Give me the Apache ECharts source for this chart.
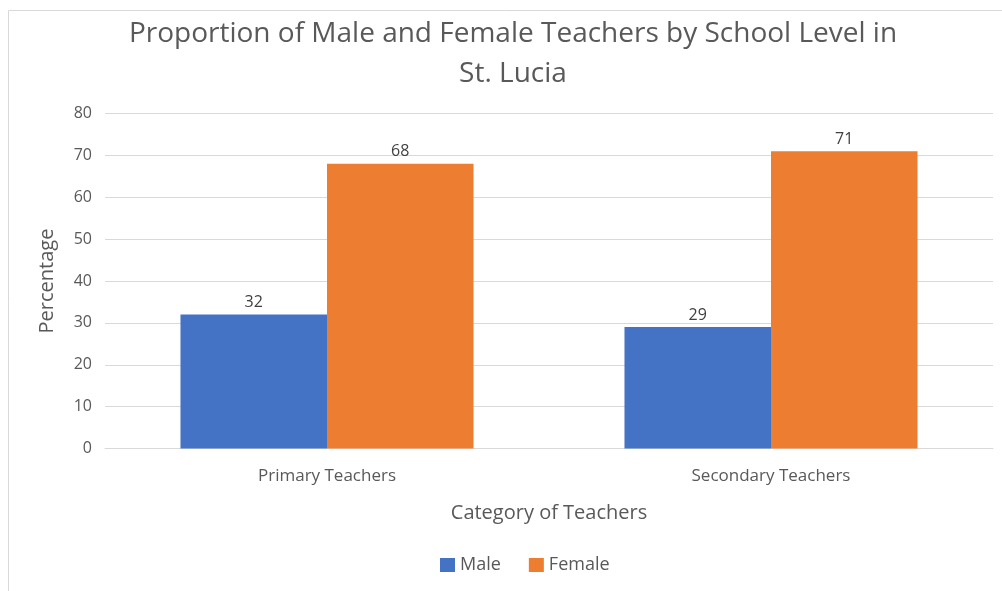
<!DOCTYPE html>
<html>
<head>
<meta charset="utf-8">
<script src="https://cdn.jsdelivr.net/npm/echarts@6/dist/echarts.min.js"></script>
<style>
  html, body { margin: 0; padding: 0; background: #fff; }
  #chart { width: 1002px; height: 591px; }
</style>
</head>
<body>
<div id="chart"></div>
<script>
// data
const categories = ['Primary Teachers', 'Secondary Teachers']
const maleValues = [32, 29]
const femaleValues = [68, 71]
const yTicks = [0, 80, 10] // min, max, interval

const FONT = '"Open Sans", "Noto Sans", sans-serif'
const labelColor = '#595959'

const chart = echarts.init(document.getElementById('chart'))

chart.setOption({
  animation: false,
  textStyle: { fontFamily: FONT },
  title: {
    text: 'Proportion of Male and Female Teachers by School Level in\nSt. Lucia',
    left: 508,
    top: 9,
    textAlign: 'center',
    textStyle: {
      fontFamily: FONT,
      fontSize: 28,
      fontWeight: 'normal',
      color: labelColor,
      lineHeight: 40
    }
  },
  // outer chart frame (as in the spreadsheet export)
  graphic: [{
    type: 'rect',
    shape: { x: 8.5, y: 10.5, width: 1200, height: 800 },
    style: { fill: 'none', stroke: '#d9d9d9', lineWidth: 1 },
    silent: true,
    z: -1
  }],
  legend: {
    data: ['Male', 'Female'],
    left: 440,
    top: 556,
    padding: 0,
    itemWidth: 15,
    itemHeight: 14,
    itemGap: 28,
    icon: 'rect',
    textStyle: { color: labelColor, fontSize: 18, fontFamily: FONT }
  },
  grid: { left: 105, right: 9, top: 113.5, bottom: 142.5, containLabel: false },
  xAxis: {
    type: 'category',
    data: categories,
    name: 'Category of Teachers',
    nameLocation: 'middle',
    nameGap: 55,
    nameTextStyle: { color: labelColor, fontSize: 20, fontFamily: FONT },
    axisLine: { lineStyle: { color: '#d9d9d9' } },
    axisTick: { show: false },
    axisLabel: { color: labelColor, fontSize: 17, margin: 19, fontFamily: FONT }
  },
  yAxis: {
    type: 'value',
    min: yTicks[0],
    max: yTicks[1],
    interval: yTicks[2],
    name: 'Percentage',
    nameLocation: 'middle',
    nameGap: 48,
    nameTextStyle: { color: labelColor, fontSize: 20, fontFamily: FONT },
    axisLine: { show: false },
    axisTick: { show: false },
    splitLine: { lineStyle: { color: '#d9d9d9' } },
    axisLabel: { color: labelColor, fontSize: 16, margin: 13, fontFamily: FONT }
  },
  series: [{
    name: 'Male',
    type: 'bar',
    data: maleValues,
    barGap: '0%',
    barCategoryGap: '34%',
    itemStyle: { color: '#4472c4' },
    label: { show: true, position: 'top', distance: 4, color: '#404040', fontSize: 16, fontFamily: FONT }
  }, {
    name: 'Female',
    type: 'bar',
    data: femaleValues,
    barGap: '0%',
    barCategoryGap: '34%',
    itemStyle: { color: '#ed7d31' },
    label: { show: true, position: 'top', distance: 4, color: '#404040', fontSize: 16, fontFamily: FONT }
  }]
})
</script>
</body>
</html>
